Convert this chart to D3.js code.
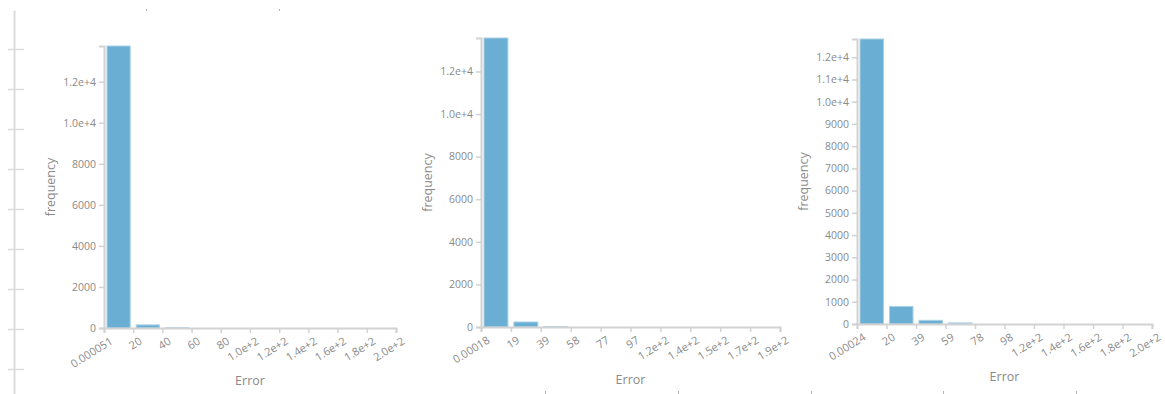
<!DOCTYPE html>
<html>
<head>
<meta charset="utf-8">
<script src="https://cdn.jsdelivr.net/npm/d3@7"></script>
<style>
  html, body { margin: 0; padding: 0; background: #fff; }
  svg { display: block; }
  text { font-family: "Segoe UI", "Open Sans", "Noto Sans", sans-serif; fill: #8a8a8a; }
</style>
</head>
<body>
<svg id="chart" width="1165" height="394"></svg>
<script>
// Histogram of errors for three models: bin counts per 10 equal-width bins
const binCountsA = [13740, 150, 12, 0, 0, 0, 0, 0, 0, 0];
const binCountsB = [13570, 235, 14, 0, 0, 0, 0, 0, 0, 0];
const binCountsC = [12820, 790, 165, 48, 0, 0, 0, 0, 0, 0];

// Error range covered by each histogram
const rangeA = [0.000051, 200];
const rangeB = [0.00018, 194];
const rangeC = [0.00024, 196];

// x tick labels at bin edges
const xLabelsA = ["0.000051", "20", "40", "60", "80", "1.0e+2", "1.2e+2", "1.4e+2", "1.6e+2", "1.8e+2", "2.0e+2"];
const xLabelsB = ["0.00018", "19", "39", "58", "77", "97", "1.2e+2", "1.4e+2", "1.5e+2", "1.7e+2", "1.9e+2"];
const xLabelsC = ["0.00024", "20", "39", "59", "78", "98", "1.2e+2", "1.4e+2", "1.6e+2", "1.8e+2", "2.0e+2"];

// y ticks
const yTicksA = [0, 2000, 4000, 6000, 8000, 10000, 12000];
const yTicksB = [0, 2000, 4000, 6000, 8000, 10000, 12000];
const yTicksC = [0, 1000, 2000, 3000, 4000, 5000, 6000, 7000, 8000, 9000, 10000, 11000, 12000];

const svg = d3.select("#chart");
const axisColor = "#d2d2d2";
const barFill = "#6aaed3";
const barStroke = "#a9d0e6";

function yFormat(v) {
  return v >= 10000 ? d3.format(".1e")(v) : String(v);
}

function drawHistogram(cfg) {
  const g = svg.append("g");
  const n = cfg.counts.length;
  const x = d3.scaleLinear().domain(cfg.range).range([cfg.left, cfg.right]);
  const y = d3.scaleLinear().domain([0, d3.max(cfg.counts)]).range([cfg.bottom, cfg.top]);
  const step = (cfg.range[1] - cfg.range[0]) / n;
  const edges = d3.range(n + 1).map(i => cfg.range[0] + i * step);
  const bins = cfg.counts.map((c, i) => ({ x0: edges[i], x1: edges[i + 1], count: c }));

  // bars
  g.selectAll("rect.bar").data(bins.filter(b => b.count > 0)).join("rect")
    .attr("class", "bar")
    .attr("x", d => x(d.x0) + 3)
    .attr("width", d => x(d.x1) - x(d.x0) - 6)
    .attr("y", d => y(d.count))
    .attr("height", d => y(0) - y(d.count))
    .attr("fill", barFill)
    .attr("stroke", barStroke)
    .attr("stroke-width", 1);

  // x axis
  const xAxis = d3.axisBottom(x)
    .tickValues(edges)
    .tickFormat((d, i) => cfg.xLabels[i])
    .tickSize(5)
    .tickSizeOuter(5);
  const gx = g.append("g").attr("transform", `translate(0,${cfg.bottom})`).call(xAxis);
  gx.select(".domain").attr("stroke", axisColor).attr("stroke-width", 2);
  gx.selectAll(".tick line").attr("stroke", axisColor).attr("stroke-width", 1.5);
  gx.selectAll(".tick text")
    .attr("fill", "#8a8a8a")
    .attr("font-size", 11)
    .attr("text-anchor", "end")
    .attr("dy", "0.35em")
    .attr("transform", "translate(7,12) rotate(-32)")
    .attr("y", 0);

  // y axis
  const yAxis = d3.axisLeft(y)
    .tickValues(cfg.yTicks)
    .tickFormat(yFormat)
    .tickSize(5)
    .tickSizeOuter(5)
    .tickPadding(3);
  const gy = g.append("g").attr("transform", `translate(${cfg.left},0)`).call(yAxis);
  gy.select(".domain").attr("stroke", axisColor).attr("stroke-width", 2);
  gy.selectAll(".tick line").attr("stroke", axisColor).attr("stroke-width", 1.5);
  gy.selectAll(".tick text").attr("fill", "#8a8a8a").attr("font-size", 10.5);

  // axis titles
  g.append("text")
    .attr("x", (cfg.left + cfg.right) / 2)
    .attr("y", cfg.bottom + 57)
    .attr("text-anchor", "middle")
    .attr("font-size", 12.5)
    .text("Error");
  g.append("text")
    .attr("transform", `translate(${cfg.left - 49},${(cfg.top + cfg.bottom) / 2}) rotate(-90)`)
    .attr("text-anchor", "middle")
    .attr("font-size", 12.5)
    .text("frequency");
}

// partial axis of a neighbouring panel at the far left edge
const edgeTicks = [49, 89, 129, 169, 209, 249, 289, 329, 369];
const edgeScale = d3.scaleIdentity().domain([10, 394]);
const edgeAxis = svg.append("g").attr("transform", "translate(14,0)")
  .call(d3.axisLeft(edgeScale).tickValues(edgeTicks).tickSize(6).tickSizeOuter(0).tickFormat(""));
edgeAxis.select(".domain").attr("stroke", "#dcdcdc").attr("stroke-width", 2);
edgeAxis.selectAll(".tick line").attr("stroke", "#dcdcdc").attr("stroke-width", 1.5).attr("x2", 10).attr("x1", -6);

// clipped tick stubs from neighbouring panels along the top and bottom edges
const stubScale = d3.scaleIdentity().domain([0, 1165]);
const topStubs = svg.append("g").attr("transform", "translate(0,11)")
  .call(d3.axisTop(stubScale).tickValues([146, 279]).tickSize(2).tickSizeOuter(0).tickFormat(""));
topStubs.select(".domain").remove();
topStubs.selectAll(".tick line").attr("stroke", "#b5b5b5").attr("stroke-width", 1);
const bottomStubs = svg.append("g").attr("transform", "translate(0,391)")
  .call(d3.axisBottom(stubScale).tickValues([545, 678, 811, 943, 1076]).tickSize(3).tickSizeOuter(0).tickFormat(""));
bottomStubs.select(".domain").remove();
bottomStubs.selectAll(".tick line").attr("stroke", "#b5b5b5").attr("stroke-width", 1);

drawHistogram({ counts: binCountsA, range: rangeA, xLabels: xLabelsA, yTicks: yTicksA,
  left: 104, right: 396, top: 46, bottom: 328 });
drawHistogram({ counts: binCountsB, range: rangeB, xLabels: xLabelsB, yTicks: yTicksB,
  left: 481, right: 780, top: 38, bottom: 327 });
drawHistogram({ counts: binCountsC, range: rangeC, xLabels: xLabelsC, yTicks: yTicksC,
  left: 857, right: 1152, top: 39, bottom: 324 });
</script>
</body>
</html>
